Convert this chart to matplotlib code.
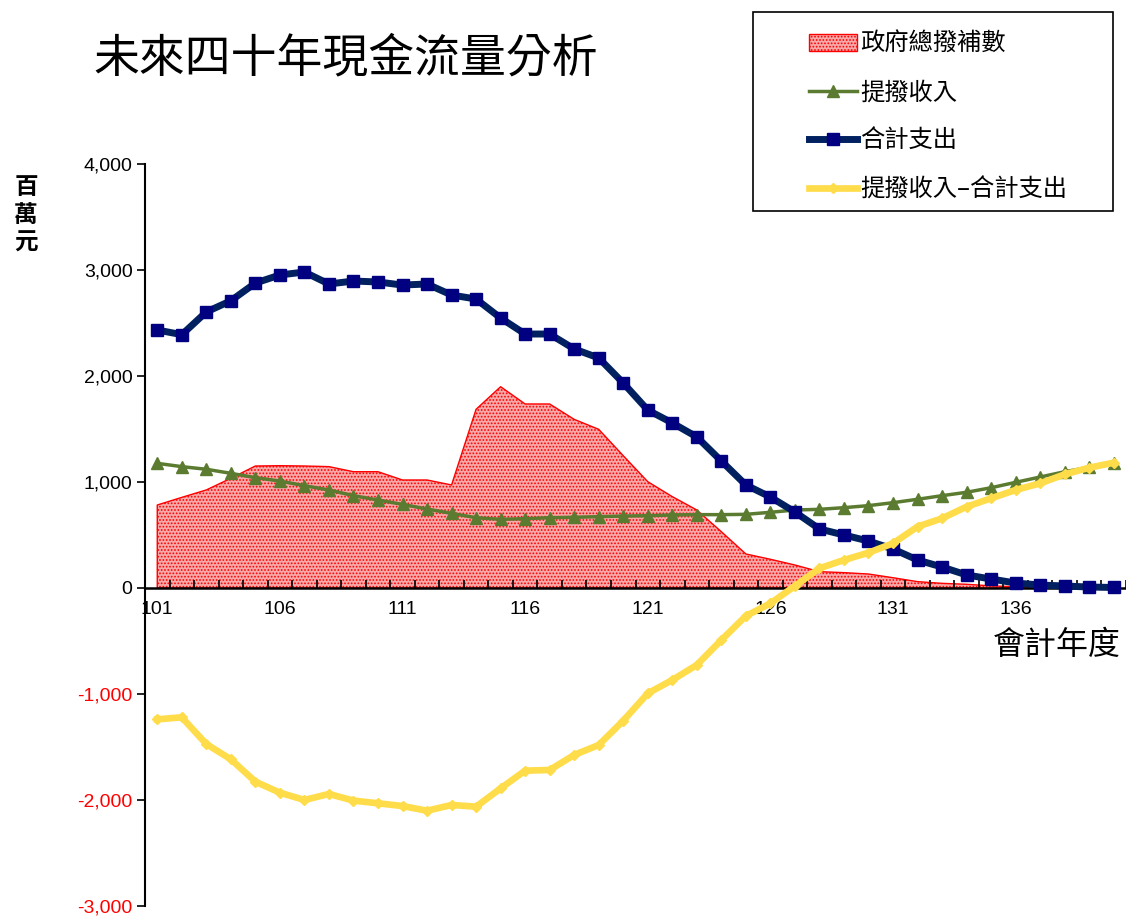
import matplotlib
matplotlib.use("Agg")
import matplotlib.pyplot as plt
from matplotlib.patches import Patch, Rectangle
from matplotlib.lines import Line2D
from matplotlib.ticker import FuncFormatter, MultipleLocator

plt.rcParams['font.family'] = ['Noto Sans CJK TC', 'DejaVu Sans']
plt.rcParams['hatch.linewidth'] = 0.8

# data (百萬元), fiscal years 101-140
years = list(range(101, 141))
subsidy = [783, 855, 925, 1035, 1151, 1154, 1151, 1145, 1097, 1097,
           1019, 1019, 972, 1686, 1899, 1736, 1736, 1591, 1497, 1248,
           1003, 862, 736, 531, 321, 271, 217, 154, 145, 132,
           97, 60, 44, 35, 20, 12, 8, 5, 3, 2]
income = [1176, 1145, 1120, 1082, 1041, 1009, 965, 925, 871, 830,
          789, 745, 704, 663, 648, 654, 663, 667, 673, 679,
          682, 689, 692, 692, 695, 714, 736, 742, 758, 777,
          805, 837, 871, 903, 946, 997, 1047, 1097, 1139, 1176]
expense = [2434, 2390, 2604, 2710, 2877, 2953, 2981, 2868, 2896, 2887,
           2858, 2868, 2764, 2726, 2547, 2396, 2396, 2255, 2170, 1934,
           1679, 1557, 1425, 1198, 972, 858, 717, 557, 500, 443,
           368, 264, 198, 123, 85, 47, 28, 19, 9, 5]
net = [-1239, -1220, -1472, -1616, -1827, -1931, -2000, -1943, -2006, -2031,
       -2057, -2101, -2047, -2063, -1890, -1723, -1717, -1575, -1481, -1252,
       -994, -868, -726, -491, -264, -145, 19, 186, 264, 333,
       421, 579, 657, 767, 846, 925, 987, 1072, 1135, 1182]
xlabels = [101, 106, 111, 116, 121, 126, 131, 136]

red_face = '#f7a8a8'
green = '#5b7b30'
navy_line = '#002060'
navy_mark = '#000080'
yellow = '#ffdc4a'

fig = plt.figure(figsize=(11.26, 9.16), dpi=100)
ax = fig.add_axes([145/1126, 10/916, 981/1126, 742/916])

ax.fill_between(years, subsidy, 0, facecolor=red_face, edgecolor='red',
                hatch='.....', linewidth=1.0, zorder=1)
ax.plot(years, income, color=green, lw=2.5, marker='^', ms=8,
        mfc=green, mec=green, zorder=2)
ax.plot(years, expense, color=navy_line, lw=5, marker='s', ms=9,
        mfc=navy_mark, mec=navy_mark, zorder=3)
ax.plot(years, net, color=yellow, lw=4.8, marker='D', ms=5,
        mfc=yellow, mec=yellow, zorder=4)

ax.set_xlim(100.5, 140.5)
ax.set_ylim(-3000, 4000)

for s in ['top', 'right']:
    ax.spines[s].set_visible(False)
ax.spines['bottom'].set_position(('data', 0))
ax.spines['bottom'].set_linewidth(1.8)
ax.spines['left'].set_linewidth(1.5)

ax.set_xticks(xlabels)
ax.set_xticklabels([str(v) for v in xlabels], family='Liberation Sans', fontsize=14)
ax.xaxis.set_minor_locator(MultipleLocator(1, offset=0.5))
ax.tick_params(axis='x', which='major', length=0, pad=9)
ax.tick_params(axis='x', which='minor', direction='in', length=6, width=1.2)

ax.yaxis.set_major_locator(MultipleLocator(1000))
ax.yaxis.set_major_formatter(FuncFormatter(lambda v, p: f"{int(v):,}"))
ax.tick_params(axis='y', direction='out', length=6, width=1.2, pad=3)
fig.canvas.draw()
for t in ax.get_yticklabels():
    t.set_family('Liberation Sans')
    t.set_fontsize(14)
    if t.get_position()[1] < 0:
        t.set_color('red')

fig.text(346/1126, 1 - 58/916, '未來四十年現金流量分析', fontsize=33,
         fontweight='light', ha='center', va='center')
fig.text(26/1126, 1 - 215/916, '百\n萬\n元', fontsize=17, fontweight='bold',
         ha='center', va='center', linespacing=1.2)
fig.text(1121/1126, 1 - 645/916, '會計年度', fontsize=23, ha='right', va='center')

# legend box
fig.patches.append(Rectangle((753/1126, 1 - 211/916), 360/1126, 199/916,
                             transform=fig.transFigure, fill=False,
                             edgecolor='black', linewidth=1.2))
handles = [
    Patch(facecolor=red_face, edgecolor='red', hatch='.....', linewidth=1.0),
    Line2D([], [], color=green, lw=2.5, marker='^', ms=8, mfc=green, mec=green),
    Line2D([], [], color=navy_line, lw=5, marker='s', ms=9, mfc=navy_mark, mec=navy_mark),
    Line2D([], [], color=yellow, lw=4.8, marker='D', ms=5, mfc=yellow, mec=yellow),
]
labels = ['政府總撥補數', '提撥收入', '合計支出', '提撥收入–合計支出']
fig.legend(handles, labels, loc='upper left',
           bbox_to_anchor=(797/1126, 1 - 19/916), frameon=False,
           fontsize=17.5, handlelength=1.95, handletextpad=0.15,
           labelspacing=0.92, borderpad=0)

fig.savefig('out.png', dpi=100)
